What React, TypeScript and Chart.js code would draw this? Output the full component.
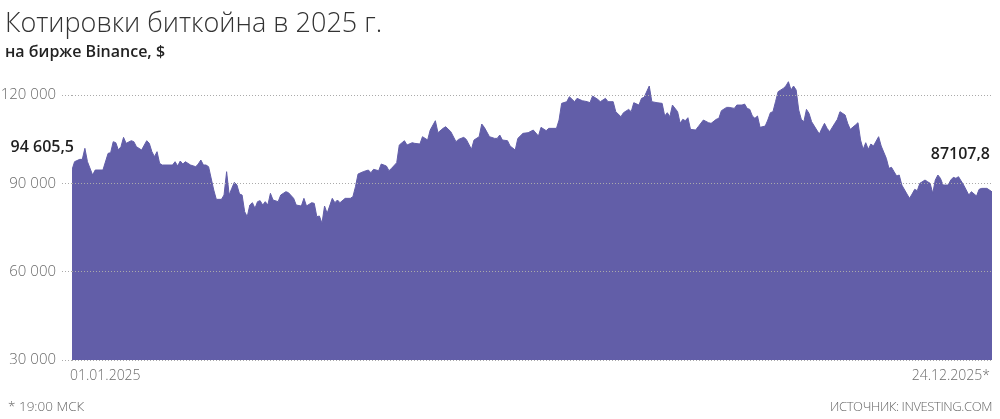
import React, { useEffect, useRef } from "react";
import { Chart, registerables } from "chart.js";

Chart.register(...registerables);

// Day index counted from 01.01.2025 (0) to 24.12.2025 (357)
const days = [
  0, 1, 3, 4, 5, 6, 8, 9, 12, 14, 15, 16, 17, 18, 19, 20, 21, 23, 24, 25, 27, 29, 30, 31, 32, 33, 34, 35,
  39, 40, 41, 42, 43, 44, 46, 48, 49, 50, 51, 52, 53, 55, 56, 58, 59, 60, 61, 62, 63, 64, 65, 66, 67, 68,
  69, 70, 71, 72, 73, 74, 75, 76, 77, 78, 80, 81, 83, 84, 86, 87, 89, 90, 91, 93, 94, 95, 96, 97, 98, 99,
  101, 102, 103, 104, 106, 108, 109, 110, 111, 113, 115, 116, 117, 119, 120, 122, 123, 124, 126, 127, 129,
  130, 132, 133, 135, 136, 138, 139, 141, 142, 144, 145, 147, 149, 150, 152, 153, 155, 156, 158, 159, 160,
  162, 164, 165, 166, 167, 169, 170, 172, 173, 175, 177, 179, 181, 182, 184, 185, 188, 189, 190, 192, 193,
  195, 196, 198, 200, 201, 202, 204, 205, 207, 208, 210, 211, 213, 214, 216, 217, 218, 220, 221, 222, 224,
  225, 227, 229, 230, 231, 232, 233, 235, 236, 237, 238, 239, 240, 242, 243, 245, 247, 248, 250, 251, 252,
  254, 255, 257, 258, 260, 261, 262, 263, 264, 265, 266, 267, 269, 270, 271, 272, 273, 274, 276, 277, 278,
  279, 280, 281, 282, 283, 284, 285, 286, 287, 289, 290, 291, 292, 293, 294, 296, 297, 298, 300, 301, 302,
  304, 305, 306, 307, 308, 309, 310, 311, 313, 314, 316, 317, 318, 319, 320, 321, 322, 324, 325, 326, 327,
  328, 329, 331, 332, 333, 334, 335, 336, 337, 338, 340, 341, 342, 343, 344, 346, 347, 348, 349, 351, 352,
  353, 355, 356, 357,
];

const prices = [
  94605.5, 97360, 98150, 98150, 101890, 97360, 92830, 94530, 94530, 100190, 100420, 104150, 103810, 101320,
  102450, 105620, 103590, 104490, 104150, 102450, 101320, 104490, 103590, 100760, 99060, 100760, 96790, 96230,
  96230, 97360, 95890, 97590, 96570, 97360, 96230, 95660, 96570, 97930, 96230, 96230, 95660, 87740, 84570,
  84570, 86040, 93960, 86040, 88300, 90340, 89440, 86380, 86040, 80380, 78680, 82640, 83440, 81510, 83780,
  84120, 82640, 83780, 82640, 86610, 84340, 83780, 86040, 87170, 86830, 84910, 82640, 82300, 84910, 82300,
  83440, 83210, 78680, 78910, 76420, 82300, 79810, 84910, 83440, 84340, 83440, 84910, 84910, 85470, 88870,
  93170, 93960, 94530, 93620, 94760, 94300, 96570, 95890, 94300, 95100, 97020, 103020, 104490, 103020, 103810,
  103590, 103360, 105850, 104720, 108110, 111280, 107210, 108680, 109250, 107550, 104150, 104940, 105620,
  104940, 101550, 104720, 105850, 110150, 109020, 105850, 105280, 105280, 106420, 104720, 104490, 102680,
  101320, 105280, 106980, 107210, 108110, 106080, 109020, 107890, 108680, 108680, 111510, 117170, 117740,
  119430, 117740, 118870, 118080, 117740, 117400, 119660, 118530, 117740, 118870, 117740, 117740, 114340,
  112640, 114000, 115130, 114340, 117400, 116600, 118870, 119210, 123060, 117740, 117400, 117170, 112870,
  114000, 112640, 116600, 114340, 110380, 111740, 111280, 112300, 108340, 108110, 109250, 111510, 110600,
  110380, 111740, 112080, 114680, 115810, 115810, 115470, 116600, 116600, 116940, 115470, 115130, 112870,
  112080, 112870, 109020, 109470, 111510, 114000, 114340, 117740, 121130, 122260, 123060, 124530, 121700,
  123060, 121700, 114910, 111740, 110940, 115130, 113770, 110940, 108110, 106760, 108680, 110380, 108680,
  107550, 110380, 111740, 114340, 113210, 110380, 108340, 109810, 110600, 104720, 101550, 103810, 101550,
  103360, 102680, 105850, 102680, 98490, 95100, 95440, 93970, 92500, 92830, 89430, 86380, 84910, 86380, 87960,
  87510, 90000, 91130, 90570, 90000, 86600, 91130, 92830, 91700, 89430, 89430, 91130, 92040, 91700, 92270,
  89430, 87740, 86040, 87170, 85700, 87960, 88300, 88300, 87740, 87107.8,
];

const yTickValues = [30000, 60000, 90000, 120000];
const xTickLabels = ["01.01.2025", "24.12.2025*"];
const firstValueLabel = "94 605,5";
const lastValueLabel = "87107,8";

const titleText = "Котировки биткойна в 2025 г.";
const subtitleText = "на бирже Binance, $";
const footnoteText = "* 19:00 МСК";
const sourceText = "ИСТОЧНИК: INVESTING.COM";

const FILL = "#625EA8";
const FONT = "'Open Sans', 'Noto Sans', sans-serif";

function fmtThousands(v: number): string {
  return String(Math.round(v)).replace(/\B(?=(\d{3})+(?!\d))/g, " ");
}

const valueLabelsPlugin = {
  id: "valueLabels",
  afterDatasetsDraw(chart: any) {
    const meta = chart.getDatasetMeta(0);
    const pts = meta.data;
    if (!pts || !pts.length) return;
    const ctx = chart.ctx;
    ctx.save();
    ctx.font = `600 16px ${FONT}`;
    ctx.fillStyle = "#1f1f1f";
    ctx.textBaseline = "middle";
    const first = pts[0];
    ctx.textAlign = "right";
    ctx.fillText(firstValueLabel, first.x + 2, first.y - 22);
    const last = pts[pts.length - 1];
    ctx.textAlign = "right";
    ctx.fillText(lastValueLabel, last.x - 2, last.y - 37);
    ctx.restore();
  },
};

function PriceChart() {
  const ref = useRef<HTMLCanvasElement | null>(null);
  useEffect(() => {
    if (!ref.current) return;
    const chart = new Chart(ref.current, {
      type: "line",
      data: {
        datasets: [
          {
            data: days.map((d, i) => ({ x: d, y: prices[i] })),
            fill: "start",
            backgroundColor: FILL,
            borderColor: FILL,
            borderWidth: 1,
            pointRadius: 0,
            tension: 0,
          },
        ],
      },
      options: {
        animation: false,
        responsive: false,
        maintainAspectRatio: false,
        layout: { padding: { top: 65.6, right: 7, bottom: 29, left: 0 } },
        plugins: { legend: { display: false }, tooltip: { enabled: false } },
        scales: {
          x: {
            type: "linear",
            min: days[0],
            max: days[days.length - 1],
            grid: { display: false, drawTicks: false },
            border: { display: false },
            afterBuildTicks: (s: any) => {
              s.ticks = [{ value: days[0] }, { value: days[days.length - 1] }];
            },
            afterFit: (s: any) => {
              s.height = 30;
            },
            ticks: {
              autoSkip: false,
              maxRotation: 0,
              align: "inner",
              padding: 8,
              labelOffset: -2,
              color: "#6b6b6b",
              font: { family: FONT, size: 14, weight: "300" },
              callback: (_v: any, i: number) => xTickLabels[i],
            },
          },
          y: {
            type: "linear",
            min: 30000,
            max: 130000,
            afterBuildTicks: (s: any) => {
              s.ticks = yTickValues.map((v) => ({ value: v }));
            },
            afterFit: (s: any) => {
              s.width = 72;
            },
            grid: {
              color: "#aaaaaa",
              lineWidth: 1,
              z: 1,
              drawTicks: true,
              tickLength: 10,
              tickColor: "#aaaaaa",
              tickBorderDash: [1, 2],
            },
            border: { display: false, dash: [1, 2] },
            ticks: {
              padding: 6,
              color: "#6b6b6b",
              font: { family: FONT, size: 15, weight: "300" },
              callback: (v: any) => fmtThousands(Number(v)),
            },
          },
        },
      },
      plugins: [valueLabelsPlugin],
    } as any);
    return () => chart.destroy();
  }, []);
  return (
    <canvas
      ref={ref}
      width={1000}
      height={419}
      style={{ position: "absolute", left: 0, top: 0, width: 1000, height: 419 }}
    />
  );
}

export default function App() {
  return (
    <div
      style={{
        position: "fixed",
        left: 0,
        top: 0,
        width: 1000,
        height: 419,
        background: "#fff",
        overflow: "hidden",
        fontFamily: FONT,
      }}
    >
      <PriceChart />
      <div
        style={{
          position: "absolute",
          left: 5,
          top: 8,
          fontSize: 27,
          lineHeight: 1,
          fontWeight: 300,
          color: "#333",
          whiteSpace: "nowrap",
        }}
      >
        {titleText}
      </div>
      <div
        style={{
          position: "absolute",
          left: 5,
          top: 43,
          fontSize: 16,
          lineHeight: 1,
          fontWeight: 600,
          color: "#222",
          whiteSpace: "nowrap",
        }}
      >
        {subtitleText}
      </div>
      <div
        style={{
          position: "absolute",
          left: 8,
          top: 400,
          fontSize: 13.5,
          lineHeight: 1,
          fontWeight: 300,
          color: "#666",
          whiteSpace: "nowrap",
        }}
      >
        {footnoteText}
      </div>
      <div
        style={{
          position: "absolute",
          right: 8,
          top: 400,
          fontSize: 13,
          lineHeight: 1,
          fontWeight: 300,
          letterSpacing: -0.4,
          color: "#666",
          whiteSpace: "nowrap",
        }}
      >
        {sourceText}
      </div>
    </div>
  );
}
